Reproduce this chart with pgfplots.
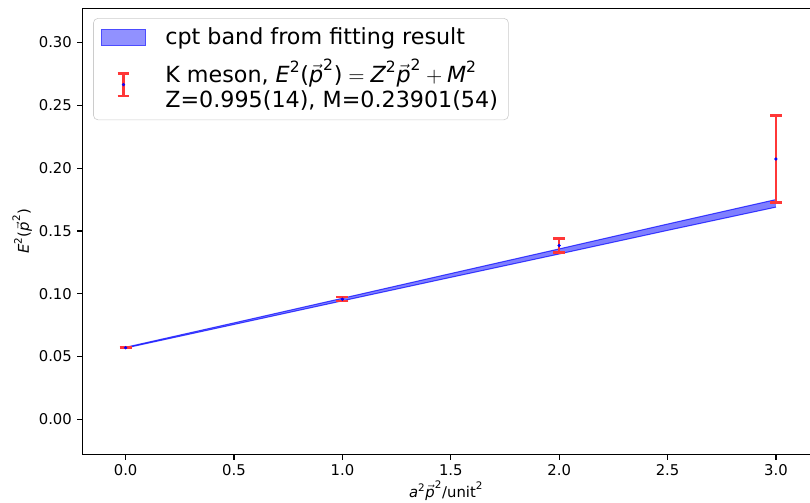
\documentclass[border=0pt]{standalone}
\usepackage{amsmath}
\usepackage{fontspec}
\setmainfont{DejaVu Sans}
\usepackage{pgfplots}
\pgfplotsset{compat=1.18}
\usepgfplotslibrary{fillbetween}
\usetikzlibrary{calc}
\newcommand{\pv}{\vec{\textit{p}}}
\newcommand{\sq}{^{\text{2}}}
\definecolor{ebred}{RGB}{255,55,55}
\definecolor{bandfill}{RGB}{118,118,255}
\definecolor{legedge}{RGB}{204,204,204}
\begin{document}
\begin{tikzpicture}
\begin{axis}[
  name=ax,
  scale only axis, width=491pt, height=301pt,
  xmin=-0.2, xmax=3.157, ymin=-0.0279, ymax=0.3273,
  axis y line*=left,
  xtick pos=left,
  xtick={0,0.5,1,1.5,2,2.5,3},
  ytick={0,0.05,0.1,0.15,0.2,0.25,0.3},
  xticklabel style={/pgf/number format/.cd, fixed, fixed zerofill, precision=1},
  yticklabel style={/pgf/number format/.cd, fixed, fixed zerofill, precision=2},
  /pgf/number format/assume math mode=true,
  tick align=outside, major tick length=3.5pt,
  every tick/.style={black, line width=0.8pt},
  axis line style={line width=0.8pt},
  tick label style={font=\fontsize{10}{12}\selectfont},
  label style={font=\fontsize{10}{12}\selectfont},
  xlabel={$\textit{a}\sq\pv\sq\text{/unit}\sq$},
  ylabel={$\textit{E}\sq\text{(}\pv\sq\text{)}$},
  xlabel style={at={(axis description cs:0.5,-0.0807)}, anchor=center},
  ylabel style={at={(axis description cs:-0.0825,0.5)}, anchor=center},
  legend cell align=left,
  legend style={at={(0.015,0.978)}, anchor=north west, draw=legedge,
    rounded corners=3pt, fill=white, fill opacity=0.8, text opacity=1,
    font=\fontsize{15}{15}\selectfont, inner xsep=5pt, inner ysep=4.5pt,
    row sep=4pt, column sep=11pt, cells={align=left}},
]
\addplot[name path=up, draw=blue, draw opacity=0.7, line width=0.7pt, forget plot]
  coordinates {(0,0.0574) (0.5,0.0768) (1,0.0964) (1.5,0.1161) (2,0.1357) (2.5,0.1555) (3,0.1750)};
\addplot[name path=lo, draw=blue, draw opacity=0.7, line width=0.7pt, forget plot]
  coordinates {(0,0.0568) (0.5,0.0756) (1,0.0944) (1.5,0.1131) (2,0.1317) (2.5,0.1505) (3,0.1690)};
\addplot[fill=blue, fill opacity=0.5, draw=none, forget plot] fill between[of=up and lo];

\addplot[only marks, mark=*, mark size=0.9pt, blue, forget plot,
  error bars/.cd, y dir=both, y explicit,
  error bar style={ebred, line width=1.5pt},
  error mark options={ebred, line width=1.5pt, mark size=4pt, rotate=90}]
  table[x=x, y=y, y error=e] {
    x y e
    0 0.0571 0.0003
    1 0.0957 0.0017
    2 0.1384 0.0056
    3 0.2073 0.0347
  };

\addlegendimage{legend image code/.code={\fill[sharp corners, fill=bandfill, draw=blue!70, line width=0.5pt] (0pt,-5.25pt) rectangle (30pt,5.25pt);}}
\addlegendentry{cpt band from fitting result}
\addlegendimage{legend image code/.code={
  \draw[sharp corners, ebred, line width=1.5pt] (15pt,-7.5pt) -- (15pt,7.5pt);
  \draw[ebred, line width=1.5pt] (11pt,-7.5pt) -- (19pt,-7.5pt);
  \draw[ebred, line width=1.5pt] (11pt,7.5pt) -- (19pt,7.5pt);
  \fill[blue] (15pt,0pt) circle (0.9pt);}}
\addlegendentry{K meson, $\textit{E}\sq\text{(}\pv\sq\text{)} = \textit{Z}\sq\pv\sq + \textit{M}\sq$\\[2pt]Z=0.995(14), M=0.23901(54)}
\end{axis}
\pgfresetboundingbox
\path[use as bounding box] ($(ax.south west)+(-55.5pt,-32.4pt)$) rectangle ($(ax.north east)+(0pt,5.6pt)$);
\end{tikzpicture}
\end{document}
